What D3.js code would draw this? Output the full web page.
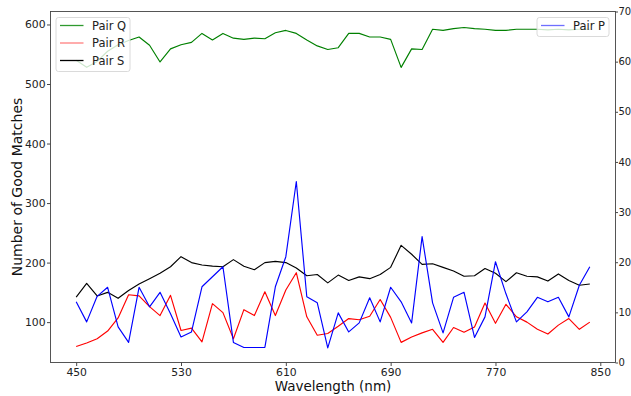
<!DOCTYPE html>
<html>
<head>
<meta charset="utf-8">
<script src="https://cdn.jsdelivr.net/npm/d3@7"></script>
<style>
  body { margin: 0; background: #fff; }
  svg { display: block; font-family: "DejaVu Sans", sans-serif; }
</style>
</head>
<body>
<svg id="chart" width="631" height="396"></svg>
<script>
// ---------- data ----------
const wavelengths = [450,458,466,474,482,490,498,506,514,522,530,538,546,554,562,570,578,586,594,602,
                     610,618,626,634,642,650,658,666,674,682,690,698,706,714,722,730,738,746,754,762,
                     770,778,786,794,802,810,818,826,834,842];
const pairQ = [540,528,538,555,566,573,579,565,537,559,566,570,585,574,585,577,575,577,576,586,
               590,585,574,564,558,561,585,585,579,579,575,528,559,558,592,590,593,595,593,592,
               590,590,592,592,592,591,592,591,592,592];
const pairR = [59,65,72,85,107,146,144,126,111,145,86,90,67,131,116,72,121,111,151,111,
               154,183,109,78,81,93,106,104,110,138,108,66,75,82,88,66,91,83,92,132,
               98,130,109,100,88,80,95,106,88,100];
const pairS = [142,165,144,150,140,153,164,173,182,193,210,200,196,194,193,205,194,188,200,202,
               200,191,178,180,166,179,170,176,173,180,192,229,214,197,198,192,186,177,178,190,
               182,168,183,177,176,169,181,170,162,164];
const pairP = [12.1,8.1,13.2,15.0,7.1,4.0,15.0,11.1,14.0,9.7,5.1,6.1,15.1,17.1,19.1,4.0,3.0,3.0,3.0,15.1,
               21.1,36.1,13.1,11.9,2.9,9.9,6.1,7.9,12.9,8.1,15.0,12.1,7.9,25.1,11.9,5.9,13.0,14.0,5.0,9.1,
               20.1,13.7,8.1,10.1,13.0,12.1,13.0,9.1,15.4,19.1];
const xTicks = [450,530,610,690,770,850];
const leftTicks = [100,200,300,400,500,600];
const rightTicks = [0,10,20,30,40,50,60,70];
const leftSeries = [
  {name: "Pair Q", values: pairQ, color: "#008000", legendColor: "#2f9a2f"},
  {name: "Pair R", values: pairR, color: "#ff0000", legendColor: "#ff7f7f"},
  {name: "Pair S", values: pairS, color: "#000000", legendColor: "#000000"}
];
const rightSeries = [
  {name: "Pair P", values: pairP, color: "#0000ff", legendColor: "#6f6fff"}
];

// ---------- layout ----------
const svg = d3.select("#chart");
const L = 50.5, R = 615.5, T = 11.5, B = 362.5;

const xMin = d3.min(wavelengths), xMax = d3.max(wavelengths);
const xPad = (xMax - xMin) * 0.05;
const x = d3.scaleLinear().domain([xMin - xPad, xMax + xPad]).range([L, R]);

const allLeft = pairQ.concat(pairR, pairS);
const yl0 = d3.min(allLeft), yl1 = d3.max(allLeft), ylPad = (yl1 - yl0) * 0.05;
const yL = d3.scaleLinear().domain([yl0 - ylPad, yl1 + ylPad]).range([B, T]);
const yR = d3.scaleLinear().domain([0, 70]).range([B, T]);

// ---------- lines ----------
function drawLine(vals, scale, color) {
  const line = d3.line().x((d, i) => x(wavelengths[i])).y(d => scale(d));
  svg.append("path").datum(vals).attr("d", line)
    .attr("fill", "none").attr("stroke", color).attr("stroke-width", 1.15)
    .attr("stroke-linejoin", "round");
}
leftSeries.forEach(s => drawLine(s.values, yL, s.color));
rightSeries.forEach(s => drawLine(s.values, yR, s.color));

// ---------- axes ----------
const tickColor = "#333";
const gx = svg.append("g").attr("transform", `translate(0,${B})`)
  .call(d3.axisBottom(x).tickValues(xTicks).tickFormat(d3.format("d")).tickSize(3.5).tickPadding(2.2));
const gl = svg.append("g").attr("transform", `translate(${L},0)`)
  .call(d3.axisLeft(yL).tickValues(leftTicks).tickFormat(d3.format("d")).tickSize(3.5).tickPadding(1.5));
const gr = svg.append("g").attr("transform", `translate(${R},0)`)
  .call(d3.axisRight(yR).tickValues(rightTicks).tickFormat(d3.format("d")).tickSize(2.5).tickPadding(0.5));
[gx, gl, gr].forEach(g => {
  g.select(".domain").remove();
  g.selectAll(".tick line").attr("stroke", tickColor).attr("stroke-width", 0.9);
  g.selectAll(".tick text").attr("fill", "#222").attr("font-size", 10.8)
    .attr("font-family", "DejaVu Sans, sans-serif");
});
gr.selectAll(".tick text").attr("font-size", 10);

// spines
svg.append("rect").attr("x", L).attr("y", T).attr("width", R - L).attr("height", B - T)
  .attr("fill", "none").attr("stroke", "#444").attr("stroke-width", 0.9);

// ---------- legends ----------
function legend(series, bx, by, bw) {
  const rowH = 17.5;
  const g = svg.append("g");
  g.append("rect").attr("x", bx).attr("y", by).attr("width", bw)
    .attr("height", series.length * rowH + 1.5)
    .attr("rx", 2.5).attr("fill", "#fff").attr("fill-opacity", 0.8)
    .attr("stroke", "#d0d0d0").attr("stroke-width", 0.8);
  series.forEach((s, i) => {
    const cy = by + 8 + i * rowH;
    g.append("line").attr("x1", bx + 4).attr("x2", bx + 27.5).attr("y1", cy).attr("y2", cy)
      .attr("stroke", s.legendColor).attr("stroke-width", 1.3);
    g.append("text").attr("x", bx + 36).attr("y", cy + 4.2).attr("font-size", 11.5)
      .attr("fill", "#222").text(s.name);
  });
}
legend(leftSeries, 56, 17.5, 74);
legend(rightSeries, 537, 17.5, 72);

// ---------- axis labels ----------
svg.append("text").attr("x", (L + R) / 2).attr("y", 391).attr("text-anchor", "middle")
  .attr("font-size", 13.5).attr("fill", "#111").text("Wavelength (nm)");
svg.append("text").attr("transform", `translate(21.5,${(T + B) / 2}) rotate(-90)`)
  .attr("text-anchor", "middle").attr("font-size", 14).attr("fill", "#111")
  .text("Number of Good Matches");
</script>
</body>
</html>
